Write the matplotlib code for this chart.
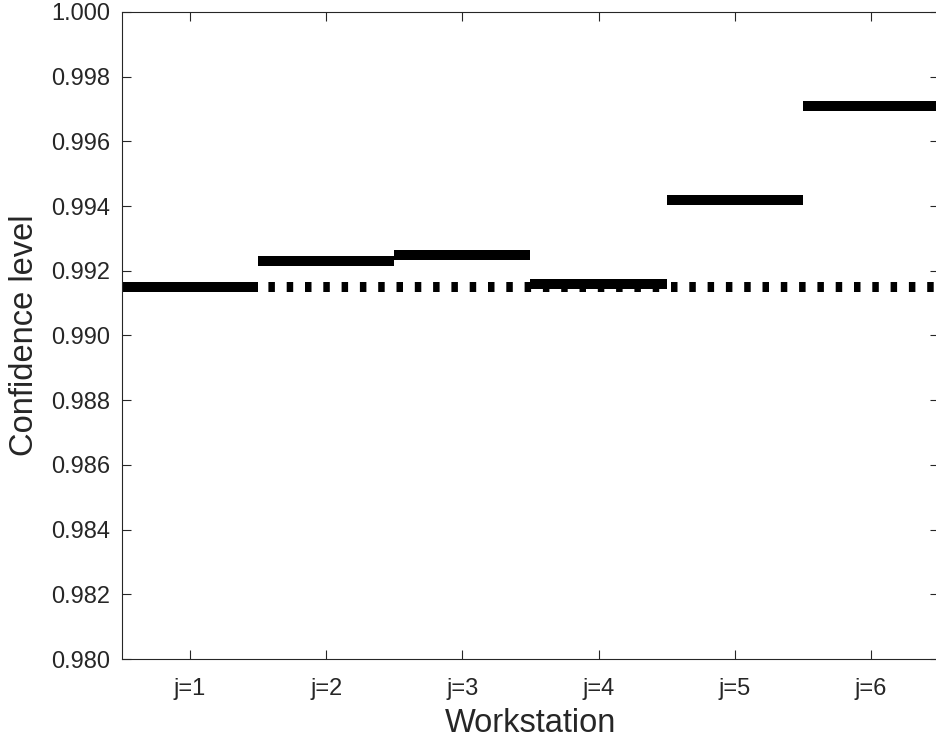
import matplotlib
matplotlib.use("Agg")
import matplotlib.pyplot as plt
import numpy as np

# confidence level per workstation
stations = ["j=1", "j=2", "j=3", "j=4", "j=5", "j=6"]
confidence = [0.9915, 0.9923, 0.9925, 0.9916, 0.9942, 0.9971]
target_level = 0.9915

yticks = [0.980, 0.982, 0.984, 0.986, 0.988, 0.990,
          0.992, 0.994, 0.996, 0.998, 1.000]

plt.rcParams["font.family"] = ["Liberation Sans", "DejaVu Sans"]
TXT = "#262626"

fig = plt.figure(figsize=(9.37, 7.47), dpi=100)
ax = fig.add_axes([0.1302, 0.1178, 0.8719, 0.8662])

x = np.arange(1, len(stations) + 1)
ax.hlines(confidence, x - 0.5, x + 0.5, colors="black", linewidth=7.2)
ax.plot([0.5, len(stations) + 0.5], [target_level, target_level],
        color="black", linewidth=7.2, linestyle=(0, (0.65, 1.18)),
        dash_capstyle="butt")

ax.set_xlim(0.5, len(stations) + 0.5)
ax.set_ylim(0.980, 1.000)
ax.set_xticks(x)
ax.set_xticklabels(stations)
ax.set_yticks(yticks)
ax.set_yticklabels([f"{v:.3f}" for v in yticks])

for s in ax.spines.values():
    s.set_color(TXT)
    s.set_linewidth(0.8)
ax.tick_params(direction="in", length=6.5, width=0.8, colors=TXT,
               top=True, right=True, labelsize=17)
ax.tick_params(axis="y", pad=8.5)
ax.tick_params(axis="x", pad=14)

ax.set_xlabel("Workstation", fontsize=23.5, color=TXT)
ax.set_ylabel("Confidence level", fontsize=23.5, color=TXT)
ax.xaxis.set_label_coords(0.5, -0.075)
ax.yaxis.set_label_coords(-0.1, 0.5)

fig.savefig("out.png", dpi=100)
